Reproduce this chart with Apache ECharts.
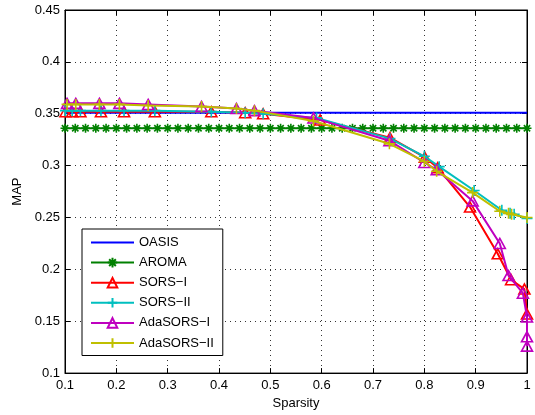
<!DOCTYPE html>
<html><head><meta charset="utf-8">
<script src="https://cdn.jsdelivr.net/npm/echarts@6/dist/echarts.min.js"></script>
<style>html,body{margin:0;padding:0;background:#fff}#c{width:535px;height:415px}</style>
</head><body><div id="c"></div>
<script>
// ---- data ----
const seriesNames = ["OASIS","AROMA","SORS\u2212I","SORS\u2212II","AdaSORS\u2212I","AdaSORS\u2212II"];
const xTicks = [0.1,0.2,0.3,0.4,0.5,0.6,0.7,0.8,0.9,1];
const yTicks = [0.1,0.15,0.2,0.25,0.3,0.35,0.4,0.45];

const oasisX = [0.1, 0.4, 0.7, 1.0];
const oasisY = [0.351, 0.351, 0.351, 0.351];

const aromaX = [0.10,0.12,0.14,0.16,0.18,0.20,0.22,0.24,0.26,0.28,0.30,0.32,0.34,0.36,0.38,0.40,0.42,0.44,0.46,0.48,0.50,0.52,0.54,0.56,0.58,0.60,0.62,0.64,0.66,0.68,0.70,0.72,0.74,0.76,0.78,0.80,0.82,0.84,0.86,0.88,0.90,0.92,0.94,0.96,0.98,1.00];
const aromaY = [0.336,0.336,0.336,0.336,0.336,0.336,0.336,0.336,0.336,0.336,0.336,0.336,0.336,0.336,0.336,0.336,0.336,0.336,0.336,0.336,0.336,0.336,0.336,0.336,0.336,0.336,0.336,0.336,0.336,0.336,0.336,0.336,0.336,0.336,0.336,0.336,0.336,0.336,0.336,0.336,0.336,0.336,0.336,0.336,0.336,0.336];

const sors1X = [0.101,0.114,0.13,0.17,0.215,0.275,0.385,0.451,0.486,0.597,0.733,0.801,0.826,0.889,0.943,0.969,0.995,1.0];
const sors1Y = [0.352,0.352,0.352,0.352,0.352,0.352,0.352,0.351,0.350,0.344,0.327,0.308,0.298,0.260,0.215,0.190,0.181,0.157];

const sors2X = [0.101,0.114,0.13,0.17,0.215,0.275,0.385,0.451,0.486,0.590,0.733,0.800,0.829,0.897,0.951,0.967,0.975,1.0];
const sors2Y = [0.353,0.353,0.353,0.353,0.353,0.353,0.352,0.351,0.350,0.346,0.326,0.309,0.299,0.276,0.257,0.254,0.253,0.249];

const ada1X = [0.104,0.121,0.167,0.206,0.262,0.366,0.434,0.469,0.584,0.732,0.800,0.824,0.894,0.947,0.964,0.992,1.0,1.0,1.0];
const ada1Y = [0.360,0.360,0.360,0.360,0.359,0.357,0.355,0.353,0.346,0.324,0.303,0.296,0.266,0.225,0.194,0.177,0.154,0.135,0.126];

const ada2X = [0.104,0.121,0.167,0.206,0.262,0.366,0.434,0.469,0.584,0.732,0.800,0.824,0.894,0.947,0.964,0.970,1.0];
const ada2Y = [0.359,0.359,0.359,0.359,0.358,0.357,0.355,0.353,0.343,0.321,0.304,0.2945,0.274,0.256,0.254,0.253,0.250];

// ---- build ----
const pairs = (xs, ys) => xs.map((x, i) => [x, ys[i]]);
const colors = ['#0000ff','#008000','#ff0000','#00bfbf','#bf00bf','#bfbf00'];
const plusPath = 'path://M5,0L5,10M0,5L10,5';
const starPath = 'path://M5,0L5,10M0,5L10,5M1.5,1.5L8.5,8.5M8.5,1.5L1.5,8.5';
const triPath = 'path://M5,0L10,9L0,9Z';
const font = '"Liberation Sans", Arial, sans-serif';

function mk(i, data, symbol, size) {
  const hasSym = !!symbol;
  return {
    name: seriesNames[i], type: 'line', data: data,
    lineStyle: {color: colors[i], width: 2},
    symbol: hasSym ? symbol : 'none', symbolSize: size || 0,
    showSymbol: hasSym, showAllSymbol: true,
    itemStyle: {color: 'rgba(255,255,255,0)', borderColor: hasSym ? colors[i] : 'rgba(0,0,0,0)', borderWidth: hasSym ? 1.6 : 0},
    animation: false, z: 2 + i, silent: true
  };
}

const chart = echarts.init(document.getElementById('c'), null, {renderer: 'canvas'});
const axisCommon = {
  axisLine: {show: true, lineStyle: {color: '#000', width: 1}},
  axisTick: {show: true, inside: true, length: 5, lineStyle: {color: '#000'}},
};
const legendData = seriesNames.map((n, i) => i === 0
  ? {name: n, itemStyle: {color: 'rgba(0,0,0,0)', borderColor: 'rgba(0,0,0,0)', borderWidth: 0}}
  : {name: n});
chart.setOption({
  animation: false,
  backgroundColor: '#fff',
  grid: {left: 65, right: 8, top: 10, bottom: 41, show: true, borderColor: '#000', borderWidth: 1},
  legend: {
    orient: 'vertical', left: 82, top: 229,
    data: legendData,
    itemWidth: 43, itemHeight: 12, itemGap: 7.1,
    padding: [7, 9, 6, 8],
    backgroundColor: '#fff', borderColor: '#000', borderWidth: 1,
    textStyle: {fontFamily: font, fontSize: 13, color: '#000', lineHeight: 12}
  },
  xAxis: [{
    type: 'value', min: xTicks[0], max: xTicks[xTicks.length-1], interval: 0.1,
    name: 'Sparsity', nameLocation: 'middle', nameGap: 23,
    nameTextStyle: {fontFamily: font, fontSize: 13, color: '#000'},
    axisLabel: {fontFamily: font, fontSize: 13, color: '#000', margin: 6},
    splitLine: {show: true, lineStyle: {color: '#333', type: [1, 4], width: 1}},
    ...axisCommon
  }, {
    type: 'value', position: 'top', min: xTicks[0], max: xTicks[xTicks.length-1], interval: 0.1,
    axisLabel: {show: false}, splitLine: {show: false}, ...axisCommon
  }],
  yAxis: [{
    type: 'value', min: yTicks[0], max: yTicks[yTicks.length-1], interval: 0.05,
    name: 'MAP', nameLocation: 'middle', nameGap: 41, nameRotate: 90,
    nameTextStyle: {fontFamily: font, fontSize: 13, color: '#000'},
    axisLabel: {fontFamily: font, fontSize: 13, color: '#000', margin: 5},
    splitLine: {show: true, lineStyle: {color: '#333', type: [1, 4], width: 1}},
    ...axisCommon
  }, {
    type: 'value', position: 'right', min: yTicks[0], max: yTicks[yTicks.length-1], interval: 0.05,
    axisLabel: {show: false}, splitLine: {show: false}, ...axisCommon
  }],
  series: [
    mk(0, pairs(oasisX, oasisY), null, 0),
    mk(1, pairs(aromaX, aromaY), starPath, 9),
    mk(2, pairs(sors1X, sors1Y), triPath, [11, 10]),
    mk(3, pairs(sors2X, sors2Y), plusPath, 11),
    mk(4, pairs(ada1X, ada1Y), triPath, [11, 10]),
    mk(5, pairs(ada2X, ada2Y), plusPath, 11)
  ]
});
</script></body></html>
